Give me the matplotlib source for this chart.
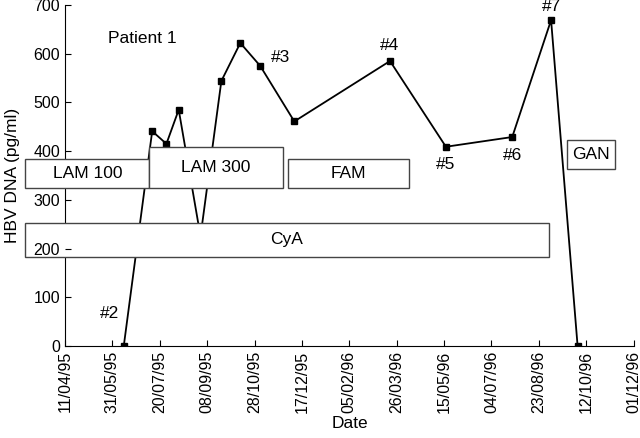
import matplotlib
matplotlib.use("Agg")
import matplotlib.pyplot as plt
import matplotlib.dates as mdates
from matplotlib.patches import Rectangle
import pandas as pd

plt.rcParams['font.family'] = ['Liberation Sans', 'DejaVu Sans']

# HBV DNA measurements, patient 1
dates = ['12/06/95', '12/07/95', '27/07/95', '09/08/95', '01/09/95', '23/09/95',
         '13/10/95', '03/11/95', '09/12/95', '19/03/96', '17/05/96', '26/07/96',
         '05/09/96', '03/10/96']
hbv = [0, 441, 415, 485, 225, 544, 622, 575, 461, 585, 409, 429, 669, 0]

tick_dates = ['11/04/95', '31/05/95', '20/07/95', '08/09/95', '28/10/95', '17/12/95',
              '05/02/96', '26/03/96', '15/05/96', '04/07/96', '23/08/96', '12/10/96',
              '01/12/96']

# treatment periods: label, start, end, low, high
treat_labels = ['LAM 100', 'LAM 300', 'FAM', 'CyA', 'GAN']
treat_start = ['28/02/95', '09/07/95', '02/12/95', '28/02/95', '22/09/96']
treat_end = ['09/07/95', '27/11/95', '08/04/96', '03/09/96', '11/11/96']
treat_low = [324, 324, 324, 183, 363]
treat_high = [384, 408, 384, 253, 423]

# sample annotations
ann_labels = ['#2', '#3', '#4', '#5', '#6', '#7']
ann_dates = ['28/05/95', '24/11/95', '19/03/96', '17/05/96', '26/07/96', '05/09/96']
ann_vals = [66, 593, 616, 372, 392, 697]


def d(s):
    return mdates.date2num(pd.to_datetime(s, format='%d/%m/%y'))


fig = plt.figure(figsize=(6.4, 4.38), dpi=100)
ax = fig.add_axes([0.1016, 0.21, 0.889, 0.7786])

x = [d(s) for s in dates]
ax.plot(x, hbv, 'k-', lw=1.3, marker='s', ms=4, zorder=2)

for lab, s, e, lo, hi in zip(treat_labels, treat_start, treat_end, treat_low, treat_high):
    r = Rectangle((d(s), lo), d(e) - d(s), hi - lo, facecolor='white',
                  edgecolor='#444444', lw=1, zorder=3, clip_on=False)
    ax.add_patch(r)
    xc = (d(s) + d(e)) / 2
    if lab == 'CyA':
        xc = d('01/12/95')
    ax.text(xc, (lo + hi) / 2, lab, ha='center', va='center', fontsize=12.5, zorder=4)

for lab, s, v in zip(ann_labels, ann_dates, ann_vals):
    ax.text(d(s), v, lab, ha='center', va='center', fontsize=12.5, clip_on=False)

ax.text(d('02/07/95'), 632, 'Patient 1', ha='center', va='center', fontsize=12.5)

ax.set_xlim(d('11/04/95'), d('01/12/96') + 0.5)
ax.set_ylim(0, 700)
ax.set_xticks([d(s) for s in tick_dates])
ax.set_xticklabels(tick_dates, rotation=90, fontsize=11.5)
ax.set_yticks(range(0, 701, 100))
ax.tick_params(axis='y', labelsize=11.5)
ax.tick_params(direction='in', length=4)
ax.yaxis.set_zorder(5)
ax.spines['top'].set_visible(False)
ax.spines['right'].set_visible(False)
ax.set_ylabel('HBV DNA (pg/ml)', fontsize=12.5, labelpad=10)
ax.set_xlabel('Date', fontsize=12.5, labelpad=2)

fig.savefig('out.png', dpi=100)
